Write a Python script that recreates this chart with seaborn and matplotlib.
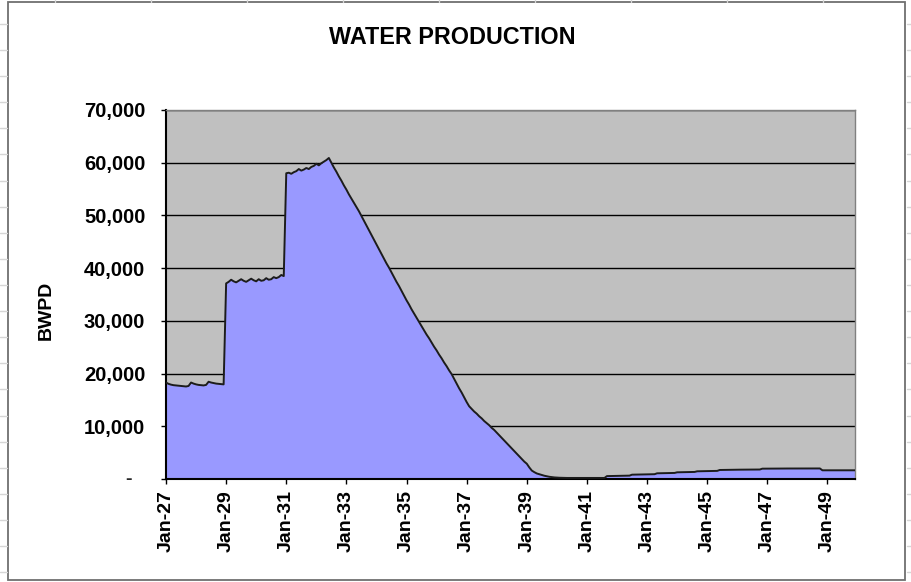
import numpy as np
import pandas as pd
import matplotlib
matplotlib.use("Agg")
import matplotlib.pyplot as plt
from matplotlib.patches import Rectangle
from matplotlib.lines import Line2D
from matplotlib.transforms import offset_copy
import seaborn as sns

# Monthly water production, Jan-1927 .. Dec-1949 (barrels of water per day)
months = pd.date_range("1927-01-01", "1949-12-01", freq="MS")
bwpd = [
    18300, 18050, 17900, 17800, 17750, 17700, 17650, 17600, 17550, 17650, 18300, 18100,  # 1927
    17950, 17850, 17800, 17750, 17850, 18450, 18300, 18200, 18100, 18050, 18000, 17950,  # 1928
    37100, 37400, 37800, 37500, 37300, 37600, 37900, 37600, 37400, 37700, 38000, 37700,  # 1929
    37500, 37900, 37600, 37700, 38100, 37800, 37900, 38300, 38100, 38300, 38700, 38500,  # 1930
    58000, 58100, 57900, 58200, 58400, 58800, 58500, 58700, 59000, 58800, 59200, 59400,  # 1931
    59800, 59500, 59900, 60200, 60500, 60900, 60000, 59100, 58300, 57400, 56600, 55700,  # 1932
    54900, 54000, 53200, 52400, 51600, 50800, 49900, 49000, 48100, 47200, 46300, 45400,  # 1933
    44500, 43600, 42700, 41800, 40900, 40100, 39200, 38300, 37400, 36600, 35700, 34800,  # 1934
    33900, 33100, 32200, 31400, 30600, 29800, 29000, 28200, 27400, 26700, 25900, 25100,  # 1935
    24400, 23600, 22900, 22100, 21400, 20600, 19900, 19000, 18100, 17200, 16400, 15500,  # 1936
    14600, 13800, 13300, 12800, 12400, 11900, 11500, 11000, 10600, 10200, 9700, 9300,    # 1937
    8800, 8300, 7800, 7300, 6800, 6300, 5800, 5300, 4800, 4300, 3800, 3300,              # 1938
    2900, 2200, 1600, 1300, 1050, 900, 750, 620, 520, 420, 350, 300,                     # 1939
    260, 240, 220, 200, 200, 200, 200, 200, 200, 200, 200, 200,                          # 1940
    200, 200, 200, 200, 200, 200, 200, 200, 550, 560, 570, 580,                          # 1941
    590, 600, 610, 620, 630, 640, 820, 830, 840, 850, 860, 870,                          # 1942
    880, 890, 900, 910, 1080, 1090, 1100, 1110, 1120, 1130, 1140, 1150,                  # 1943
    1270, 1280, 1290, 1300, 1310, 1320, 1330, 1340, 1460, 1470, 1480, 1490,              # 1944
    1500, 1510, 1520, 1530, 1540, 1710, 1720, 1730, 1740, 1750, 1750, 1760,              # 1945
    1760, 1770, 1770, 1780, 1780, 1790, 1790, 1800, 1800, 1800, 1960, 1960,              # 1946
    1970, 1970, 1970, 1980, 1980, 1980, 1990, 1990, 1990, 1990, 2000, 2000,              # 1947
    2000, 2000, 2000, 2000, 2000, 2000, 2000, 2000, 2000, 2000, 1650, 1650,              # 1948
    1650, 1650, 1650, 1650, 1650, 1650, 1650, 1650, 1650, 1650, 1650, 1650,              # 1949
]
tick_labels = ["Jan-27", "Jan-29", "Jan-31", "Jan-33", "Jan-35", "Jan-37",
               "Jan-39", "Jan-41", "Jan-43", "Jan-45", "Jan-47", "Jan-49"]
y_ticks = [0, 10000, 20000, 30000, 40000, 50000, 60000, 70000]

W, H = 912, 582

sns.set_theme(style="white")
plt.rcParams["font.family"] = ["Liberation Sans", "DejaVu Sans"]

fig = plt.figure(figsize=(W / 100, H / 100), dpi=100)
fig.patch.set_facecolor("white")


def fx(x):
    return x / W


def fy(y):
    return 1 - y / H


# worksheet cell grid peeking out around the chart object
grid_c = "#D6D6D6"
for k in range(23):
    yy = 24 + 26.1 * k
    fig.add_artist(Line2D([fx(0), fx(7)], [fy(yy), fy(yy)], color=grid_c, lw=1,
                          transform=fig.transFigure))
    fig.add_artist(Line2D([fx(907), fx(912)], [fy(yy), fy(yy)], color=grid_c, lw=1,
                          transform=fig.transFigure))
for k in range(10):
    xx = 55 + 96 * k
    fig.add_artist(Line2D([fx(xx), fx(xx)], [fy(0), fy(2)], color=grid_c, lw=1,
                          transform=fig.transFigure))

# chart object frame
fig.add_artist(Rectangle((fx(8), fy(580)), fx(897), (578 / H), fill=False,
                         ec="#707070", lw=1.3, transform=fig.transFigure))

ax = fig.add_axes([fx(166), fy(479), fx(689), 369 / H])
ax.set_facecolor("#C0C0C0")

df = pd.DataFrame({"month": np.arange(len(bwpd)), "bwpd": bwpd, "date": months})

ax.fill_between(df["month"], df["bwpd"], 0, color="#9999FF", lw=0, zorder=2)
sns.lineplot(data=df, x="month", y="bwpd", ax=ax, color="#1c1c1c", lw=1.4,
             zorder=3, legend=False)

ax.set_xlim(0, len(bwpd) - 1)
ax.set_ylim(0, 70000)

ax.set_axisbelow(True)
ax.yaxis.grid(True, color="black", lw=1)
ax.xaxis.grid(False)

ax.set_xticks(np.arange(0, len(bwpd), 24))
ax.set_xticklabels(tick_labels, rotation=90, fontsize=14, fontweight="bold")
ax.set_yticks(y_ticks)
ax.set_yticklabels([f"{v:,}" if v else "" for v in y_ticks], fontsize=14.5,
                   fontweight="bold")
ax.text(0, 0, "-", transform=offset_copy(ax.transData, fig=fig, x=-38, y=0, units="dots"),
        ha="center", va="center", fontsize=14, fontweight="bold")

ax.tick_params(axis="both", which="major", bottom=True, left=True, direction="out",
               length=3.6, width=1, color="black", colors="black")
ax.tick_params(axis="y", pad=11.3)
ax.tick_params(axis="x", pad=4.3)

for side in ("left", "bottom"):
    ax.spines[side].set_color("black")
    ax.spines[side].set_linewidth(1.5)
for side in ("top", "right"):
    ax.spines[side].set_color("#808080")
    ax.spines[side].set_linewidth(1)

ax.set_xlabel("")
ax.set_ylabel("BWPD", fontsize=14, fontweight="bold", color="black")
ax.yaxis.set_label_coords(-0.161, 0.458)

fig.text(fx(452), fy(38), "WATER PRODUCTION", ha="center", va="center",
         fontsize=16.8, fontweight="bold", color="black")

fig.savefig("out.png", dpi=100)
